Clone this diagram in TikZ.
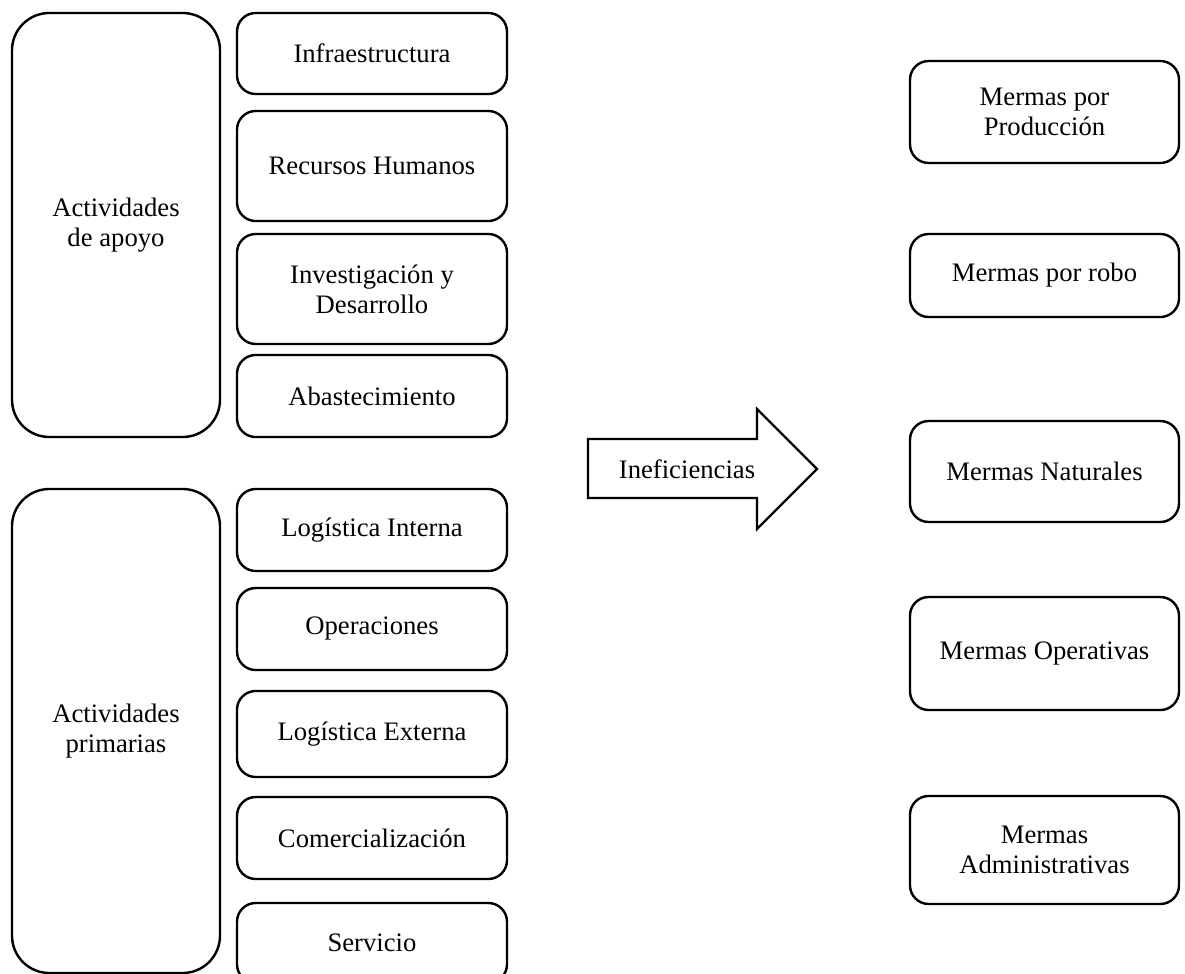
\documentclass[tikz,border=0pt]{standalone}
\usepackage{fontspec}
\setmainfont{Liberation Serif}
\begin{document}
\begin{tikzpicture}[x=0.75pt,y=-0.75pt,
  box/.style={draw, line width=1.8pt, rounded corners=14pt, align=center, inner sep=0pt,
    font=\fontsize{20pt}{22.5pt}\selectfont},
  bigbox/.style={box, rounded corners=28pt},
  midbox/.style={box, minimum width=202.5pt},
  rightbox/.style={box, minimum width=201.75pt},
  lbl/.style={align=center, inner sep=0pt, font=\fontsize{20pt}{22.5pt}\selectfont}]
\useasboundingbox (0,0) rectangle (1185,974);
\clip (0,0) rectangle (1185,974);
% left big boxes
\node[bigbox, minimum width=156pt, minimum height=318pt] (apoyo) at (116,225) {Actividades\\de apoyo};
\node[bigbox, minimum width=156pt, minimum height=363pt] (prim) at (116,731) {Actividades\\primarias};
% middle column
\node[midbox, minimum height=60.75pt] (infra) at (372,53.5) {Infraestructura};
\node[midbox, minimum height=82.5pt] (rrhh) at (372,166) {Recursos Humanos};
\node[midbox, minimum height=82.5pt] (inv) at (372,289) {Investigación y\\Desarrollo};
\node[midbox, minimum height=61.5pt] (abast) at (372,396) {Abastecimiento};
\node[midbox, minimum height=61.5pt] (logint) at (372,530) {Logística Interna};
\node[midbox, minimum height=61.5pt] (oper) at (372,629) {Operaciones};
\node[midbox, minimum height=64.5pt] (logext) at (372,734) {Logística Externa};
\node[midbox, minimum height=61.5pt] (comer) at (372,838) {Comercialización};
\node[midbox, minimum height=60pt] (serv) at (372,943) {Servicio};
% arrow
\draw[line width=1.8pt, line join=miter] (588,439) -- (757,439) -- (757,409) -- (817,469)
  -- (757,529) -- (757,498) -- (588,498) -- cycle;
\node[lbl] (inef) at (687,469) {Ineficiencias};
% right column
\node[rightbox, minimum height=76.5pt] (prod) at (1044.5,112) {Mermas por\\Producción};
\node[rightbox, minimum height=62.25pt] (robo) at (1044.5,275.5) {Mermas por robo};
\node[rightbox, minimum height=75.75pt] (nat) at (1044.5,471.5) {Mermas Naturales};
\node[rightbox, minimum height=84.75pt] (mop) at (1044.5,653.5) {Mermas Operativas};
\node[rightbox, minimum height=81pt] (adm) at (1044.5,850) {Mermas\\Administrativas};
\end{tikzpicture}
\end{document}
